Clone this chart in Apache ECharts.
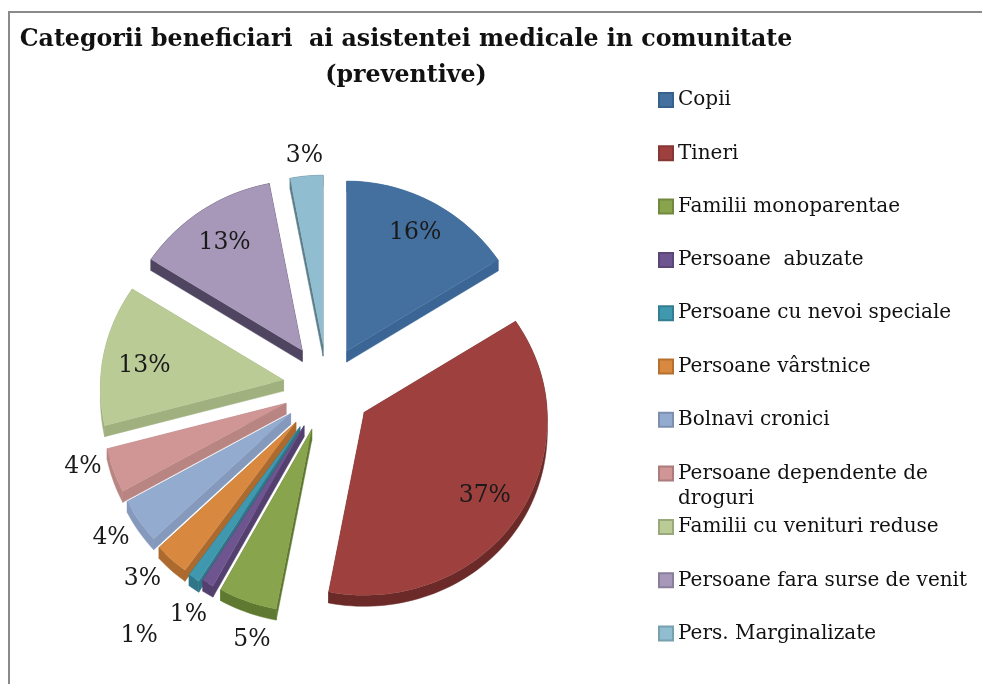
<!DOCTYPE html>
<html>
<head>
<meta charset="utf-8">
<style>
  html, body { margin: 0; background: #fff; }
  #chart { width: 982px; height: 684px; }
</style>
<script src="https://cdn.jsdelivr.net/npm/echarts@6/dist/echarts.min.js"></script>
</head>
<body>
<div id="chart"></div>
<script>
const categories = [
  'Copii', 'Tineri', 'Familii monoparentae', 'Persoane  abuzate',
  'Persoane cu nevoi speciale', 'Persoane vârstnice', 'Bolnavi cronici',
  'Persoane dependente de droguri', 'Familii cu venituri reduse',
  'Persoane fara surse de venit', 'Pers. Marginalizate'
];
const values = [16, 37, 5, 1, 1, 3, 4, 4, 13, 13, 3];

const topColors = ['#44709f', '#9e413e', '#88a44c', '#6f5590', '#3f98ae', '#d98840', '#94abd0', '#cf9695', '#bacb96', '#a798ba', '#90bdd0'];
const sideColors = ['#3a6594', '#6b2a28', '#5f7a30', '#54406f', '#2f7688', '#ad6a2e', '#8499bb', '#b88583', '#a1b07f', '#4f4560', '#5d7e8a'];
const legendBorders = ['#38608c', '#863634', '#71893e', '#5b4678', '#337e91', '#b5702f', '#7c8fae', '#ab7c7b', '#9aa97c', '#8b7e9b', '#78a0ad'];

// how far each slice is pulled out of the pie, px
const explode = [41, 45, 45, 45, 48, 47, 45, 44, 44, 44, 42];
// label moved by hand from its default spot, the way excel placed them
const labelNudge = [[2, -2], [0, 3], [12, 18], [-8, 13], [-42, 40], [-14, 3], [-10, 4], [-10, -12], [1, 7], [0, 2], [0, 0]];
const labelInside = [true, true, false, false, false, false, false, false, true, true, false];

// fake perspective of the 3d pie
const centerX = 327;
const centerY = 387;
const radiusBack = 170;
const radiusFront = 183;
const depth = 11;

const total = values.reduce((a, b) => a + b, 0);
const serifFont = '"DejaVu Serif", serif';

function startOf(i) {
  return values.slice(0, i).reduce((a, b) => a + b, 0) / total * Math.PI * 2;
}

function rim(ax, ay, angle, f) {
  const c = Math.cos(angle);
  const rx = 183 - 7 * c;
  const ry = c > 0 ? radiusBack : radiusFront;
  return [ax + f * rx * Math.sin(angle), ay - f * ry * c];
}

const down = (p) => [p[0], p[1] + depth];

function renderSlice(i, api) {
  const share = api.value(0) / total * Math.PI * 2;
  const a0 = startOf(i);
  const a1 = a0 + share;
  const mid = (a0 + a1) / 2;
  const ax = centerX + explode[i] * Math.sin(mid);
  const ay = centerY - explode[i] * Math.cos(mid);
  const apex = [ax, ay];

  const arc = [];
  const steps = Math.max(4, Math.ceil(share / 0.03));
  for (let s = 0; s <= steps; s++) {
    arc.push(rim(ax, ay, a0 + share * s / steps, 1));
  }
  const first = arc[0];
  const last = arc[arc.length - 1];

  const side = { fill: sideColors[i], stroke: sideColors[i], lineWidth: 0.5 };
  const poly = (points, style, z2) => ({ type: 'polygon', shape: { points }, style, z2 });

  const inside = labelInside[i];
  const lp = rim(ax, ay, mid, inside ? 0.78 : 1.12);

  return {
    type: 'group',
    children: [
      poly([apex, first, down(first), down(apex)], side, 1),
      poly([apex, last, down(last), down(apex)], side, 1),
      poly(arc.concat(arc.map(down).reverse()), side, 1),
      poly([apex].concat(arc), { fill: topColors[i] }, 2),
      {
        type: 'text',
        z2: 50,
        style: {
          text: api.value(0) + '%',
          x: lp[0] + labelNudge[i][0],
          y: lp[1] + labelNudge[i][1],
          align: 'center',
          verticalAlign: 'middle',
          fill: '#1a1a1a',
          fontFamily: serifFont,
          fontSize: 23.5
        }
      }
    ]
  };
}

const series = categories.map((name, i) => ({
  name,
  type: 'custom',
  coordinateSystem: 'none',
  z: 2 + categories.length - i,
  silent: true,
  itemStyle: { color: topColors[i], borderColor: legendBorders[i], borderWidth: 2 },
  renderItem: (params, api) => renderSlice(i, api),
  data: [values[i]]
}));

const legendBase = {
  orient: 'vertical',
  left: 653,
  icon: 'rect',
  itemWidth: 14,
  itemHeight: 14,
  itemGap: 29.3,
  selectedMode: false,
  textStyle: { fontFamily: serifFont, fontSize: 20, color: '#111', lineHeight: 24 }
};

const chart = echarts.init(document.getElementById('chart'));
chart.setOption({
  animation: false,
  backgroundColor: '#fff',
  title: {
    text: 'Categorii beneficiari  ai asistentei medicale in comunitate\n(preventive)',
    left: 401,
    top: 17,
    textAlign: 'center',
    textStyle: { fontFamily: serifFont, fontWeight: 'bold', fontSize: 23.7, color: '#111', lineHeight: 36 }
  },
  legend: [
    Object.assign({}, legendBase, { top: 83, data: categories.slice(0, 7) }),
    Object.assign({}, legendBase, {
      top: 431,
      data: categories.slice(7, 8),
      formatter: () => '\nPersoane dependente de\ndroguri',
      textStyle: Object.assign({}, legendBase.textStyle, { lineHeight: 25 })
    }),
    Object.assign({}, legendBase, { top: 510, data: categories.slice(8) })
  ],
  graphic: [{
    type: 'polyline',
    silent: true,
    shape: { points: [[9, 684], [9, 12], [982, 12]] },
    style: { stroke: '#8a8a8a', lineWidth: 2, fill: null }
  }],
  series
});
window.addEventListener('resize', () => chart.resize());
</script>
</body>
</html>
